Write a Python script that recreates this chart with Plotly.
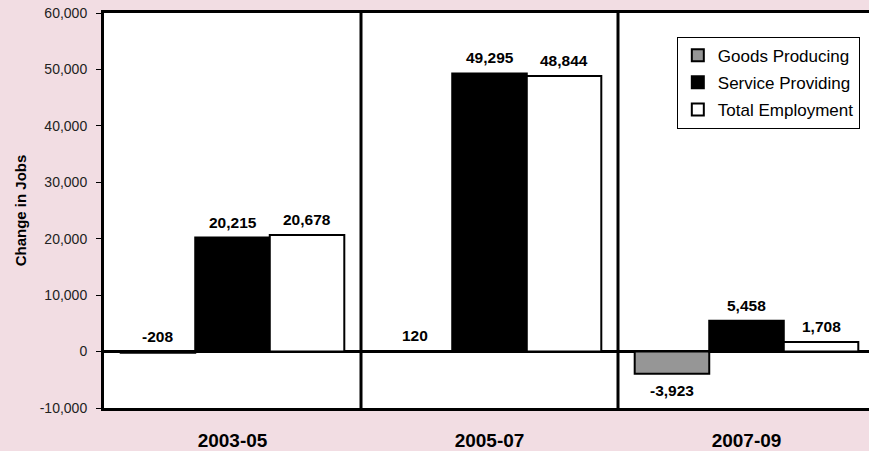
import plotly.graph_objects as go

categories = ["2003-05", "2005-07", "2007-09"]
goods_producing = [-208, 120, -3923]
service_providing = [20215, 49295, 5458]
total_employment = [20678, 48844, 1708]
series_names = ["Goods Producing", "Service Providing", "Total Employment"]
y_ticks = [-10000, 0, 10000, 20000, 30000, 40000, 50000, 60000]
y_tick_labels = [f"{v:,}" for v in y_ticks]

FONT = "Liberation Sans, Arial, sans-serif"
BG = "#f2dde3"
fills = ["#969696", "#000000", "#ffffff"]
all_series = [goods_producing, service_providing, total_employment]

x_idx = list(range(len(categories)))
bargap = 0.13
bar_w = (1 - bargap) / 3

fig = go.Figure()
for k, (name, vals, col) in enumerate(zip(series_names, all_series, fills)):
    fig.add_trace(go.Bar(
        x=x_idx, y=vals, name=name,
        marker=dict(color=col, line=dict(color="black", width=2)),
        legendgroup=name, hoverinfo="skip",
    ))

annotations = []
for k, vals in enumerate(all_series):
    for i, v in enumerate(vals):
        above = v >= 0 or abs(v) < 1000
        annotations.append(dict(
            x=i + (k - 1) * bar_w, y=max(v, 0) if above else v,
            xref="x", yref="y",
            text=f"{v:,}",
            showarrow=False,
            yanchor="bottom" if above else "top",
            yshift=5 if above else -6,
            font=dict(family=FONT, size=15.5, color="black", weight="bold"),
        ))

shapes = []
for s in [0.5, 1.5]:
    shapes.append(dict(type="line", xref="x", yref="paper", x0=s, x1=s, y0=0, y1=1,
                       line=dict(color="black", width=3)))

fig.update_layout(
    width=869, height=451,
    paper_bgcolor=BG, plot_bgcolor="white",
    margin=dict(l=104, r=0, t=13, b=43),
    barmode="group", bargap=bargap, bargroupgap=0,
    font=dict(family=FONT, color="black"),
    showlegend=True,
    legend=dict(
        x=0.988, y=0.94, xanchor="right", yanchor="top",
        bgcolor="white", bordercolor="black", borderwidth=1,
        font=dict(family=FONT, size=17, color="black"),
        traceorder="grouped", tracegroupgap=2,
        itemwidth=30,
    ),
    annotations=annotations,
    shapes=shapes,
    xaxis=dict(
        range=[-0.5, 2.5 - 6 / 257],
        tickmode="array", tickvals=x_idx, ticktext=categories,
        tickfont=dict(family=FONT, size=19, color="black", weight="bold"),
        showline=True, linecolor="black", linewidth=3, mirror=True,
        ticks="", showgrid=False, zeroline=False,
        ticklabelstandoff=13,
    ),
    yaxis=dict(
        range=[-10000, 60000],
        tickmode="array", tickvals=y_ticks, ticktext=y_tick_labels,
        tickfont=dict(family=FONT, size=14, color="#222222"),
        ticks="outside", ticklen=5, tickcolor="black", tickwidth=1,
        showline=True, linecolor="black", linewidth=3,
        showgrid=False,
        zeroline=True, zerolinecolor="black", zerolinewidth=3,
        ticklabelstandoff=6,
        title=dict(text="Change in Jobs", font=dict(family=FONT, size=15, color="black", weight="bold"), standoff=10),
    ),
)

fig.write_html("out.html", config={"displayModeBar": False},
               post_script="document.body.style.margin='0';")
